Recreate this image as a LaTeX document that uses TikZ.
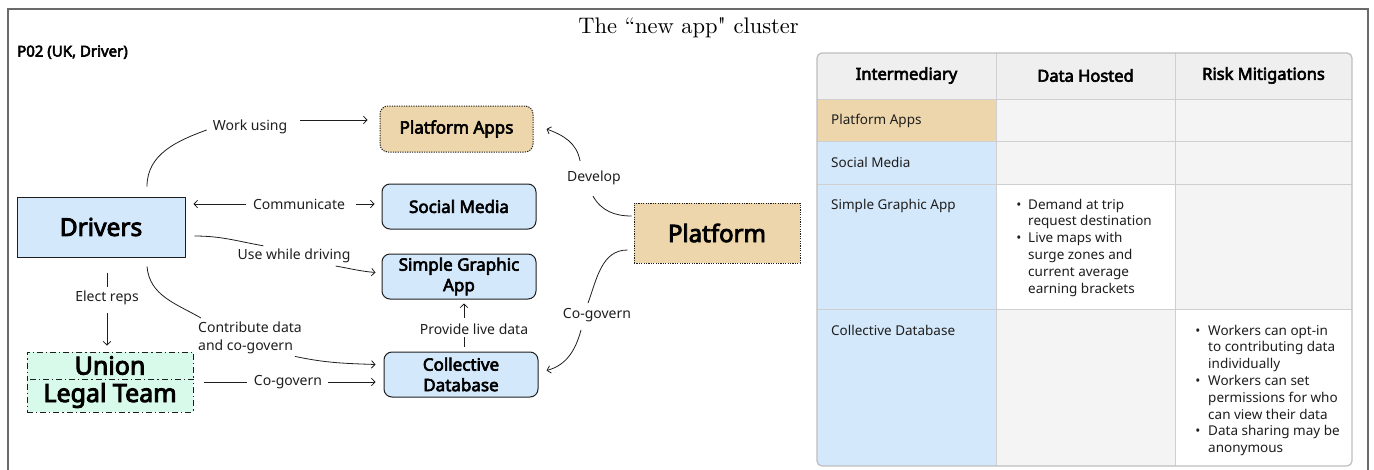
\documentclass[tikz,border=0pt]{standalone}
\usepackage{fontspec}
\newfontfamily\ns{Noto Sans}[AutoFakeBold=3.6]
\newfontfamily\ttl{lmroman10-regular.otf}[Ligatures=TeXOff]
\usetikzlibrary{arrows.meta,calc}
\definecolor{cblue}{HTML}{D4E8FB}
\definecolor{ctan}{HTML}{EDD6AB}
\definecolor{cmint}{HTML}{D8FAEA}
\definecolor{chead}{HTML}{EFEFEF}
\definecolor{ccell}{HTML}{F4F4F4}
\definecolor{cgrid}{HTML}{CFCFCF}
\definecolor{cborder}{HTML}{BDBDBD}
\definecolor{cframe}{HTML}{6A6A6A}
\definecolor{cink}{HTML}{1E1E1E}
\tikzset{
  box/.style={draw=cink, line width=1pt, align=center, inner sep=0pt, text=black},
  rbox/.style={box, rounded corners=8pt, fill=cblue, minimum width=154pt, minimum height=45pt,
    font={\ns\bfseries\fontsize{17}{20.5}\selectfont}},
  bigbox/.style={box, font={\ns\bfseries\fontsize{24.5}{26}\selectfont}},
  dotbd/.style={dash pattern=on 1.2pt off 1.2pt},
  dashdotbd/.style={dash pattern=on 6pt off 3pt on 1.2pt off 3pt},
  lbl/.style={font={\ns\fontsize{14}{18}\selectfont}, inner sep=0pt, text=cink},
  con/.style={line width=0.8pt, draw=cink},
  arr/.style={con, -{Straight Barb[length=3.5pt,width=7.5pt]}},
  thead/.style={font={\ns\bfseries\fontsize{16.5}{18}\selectfont}, inner sep=0pt, text=black},
  tcell/.style={font={\ns\fontsize{13.5}{16.8}\selectfont}, inner sep=0pt, text=cink},
  titem/.style={tcell, anchor=north west, align=left},
}
\begin{document}
\begin{tikzpicture}[x=1pt,y=-1pt]
\useasboundingbox (0,0) rectangle (1374,469);
% frame
\draw[cframe, line width=2pt] (8,470) -- (8,9) -- (1368,9) -- (1368,470);
\node[anchor=base, font=\ttl\fontsize{22.5}{25}\selectfont] (title) at (688.5,33.5) {The “new app" cluster};
\node[anchor=base west, inner sep=0pt, font={\ns\bfseries\fontsize{15}{17}\selectfont}] (pid) at (17,56.5) {P02 (UK, Driver)};

% nodes
\node[bigbox, fill=cblue, minimum width=168pt, minimum height=60pt] (drivers) at (101,227) {Drivers};
\node[bigbox, fill=cmint, dashdotbd, minimum width=166pt, minimum height=27pt, font={\ns\bfseries\fontsize{25}{26}\selectfont}] (union) at (110,365.5) {Union};
\node[bigbox, fill=cmint, dashdotbd, minimum width=166pt, minimum height=33pt, font={\ns\bfseries\fontsize{25}{26}\selectfont}] (legal) at (110,395.5) {Legal Team};
\node[rbox, fill=ctan, dotbd, minimum width=153pt, minimum height=46pt] (papps) at (456.5,129) {Platform Apps};
\node[rbox] (social) at (459,206.5) {Social Media};
\node[rbox] (simple) at (459,276.5) {Simple Graphic\\App};
\node[rbox] (coll) at (461,374.5) {Collective\\Database};
\node[box, fill=ctan, dotbd, minimum width=166pt, minimum height=60pt, font={\ns\bfseries\fontsize{24}{26}\selectfont}] (plat) at (717,233) {Platform};

% labels
\node[lbl] (wk) at (250,127) {Work using};
\node[lbl] (comm) at (299,204) {Communicate};
\node[lbl] (use) at (294,256) {Use while driving};
\node[lbl] (elect) at (107,298) {Elect reps};
\node[lbl, anchor=north west, align=left] (contrib) at (198,322) {Contribute data\\and co-govern};
\node[lbl] (cg1) at (288,382) {Co-govern};
\node[lbl] (provide) at (474,329) {Provide live data};
\node[lbl] (develop) at (594,178) {Develop};
\node[lbl] (cg2) at (597,315) {Co-govern};

% connectors
\draw[con] ($(drivers.north)+(46,-10)$) to[out=90,in=200] ($(wk.west)+(-6,3)$);
\draw[arr] ($(wk.east)+(13,-7)$) -- ($(papps.west)+(-12,-9)$);
\draw[arr] ($(comm.west)+(-7,0)$) -- ($(comm.west -| drivers.east)+(8,0)$);
\draw[arr] ($(comm.east)+(11,0)$) -- ($(comm.east -| social.west)+(-7,0)$);
\draw[con] ($(drivers.east)+(9,9)$) to[out=0,in=170] ($(use.north west)+(26,-3)$);
\draw[arr] ($(use.east)+(-15,10)$) to[out=-10,in=175] ($(simple.west)+(-6,-4)$);
\draw[con] ($(drivers.south)+(6,15)$) -- ($(elect.north)+(0,-4)$);
\draw[arr] ($(elect.south)+(0,8)$) -- ($(union.north)+(-3,-6)$);
\draw[con] ($(drivers.south)+(46,9)$) to[out=-85,in=150] ($(contrib.north west)+(3,-4)$);
\draw[arr] ($(contrib.south west)+(97,2)$) to[out=-12,in=178] ($(coll.west)+(-8,-10)$);
\draw[con] ($(cg1.west)+(-7,0)$) -- ($(cg1.west -| legal.east)+(10,0)$);
\draw[arr] ($(cg1.east)+(6,0)$) -- ($(cg1.east -| coll.west)+(-8,0)$);
\draw[con] ($(coll.north)+(3,-5)$) -- ($(coll.north)+(3,-15)$);
\draw[arr] ($(simple.south)+(5,18)$) -- ($(simple.south)+(5,4)$);
\draw[con] ($(plat.west)+(-2,-17)$) to[out=180,in=-60] ($(develop.south)+(-1,11)$);
\draw[arr] ($(develop.north)+(-14,-10)$) to[out=100,in=-20] ($(papps.east)+(13,0)$);
\draw[con] ($(plat.west)+(-6,17)$) to[out=180,in=70] ($(cg2.north)+(-9,-5)$);
\draw[arr] ($(cg2.south)+(-16,8)$) to[out=-105,in=15] ($(coll.east)+(8,-4)$);

% table
\begin{scope}
\clip[rounded corners=5pt] (817,53) rectangle (1352,466);
\fill[chead] (817,53) rectangle (1352,99);
\fill[ctan] (817,99) rectangle (996,141);
\fill[cblue] (817,141) rectangle (996,466);
\fill[ccell] (996,99) rectangle (1352,466);
\fill[white] (996,184) rectangle (1175,309);
\fill[white] (1175,309) rectangle (1352,466);
\end{scope}
\draw[cgrid, line width=1pt] (996,53) -- (996,466) (1175,53) -- (1175,466)
  (817,99) -- (1352,99) (817,141) -- (1352,141) (817,184) -- (1352,184) (817,309) -- (1352,309);
\draw[cborder, line width=1.2pt, rounded corners=5pt] (817,53) rectangle (1352,466);

\node[thead] (h1) at (906.5,75.5) {Intermediary};
\node[thead] (h2) at (1085.5,75.5) {Data Hosted};
\node[thead] (h3) at (1263.5,75.5) {Risk Mitigations};

\node[tcell, anchor=base west] (r1) at (831,124.5) {Platform Apps};
\node[tcell, anchor=base west] (r2) at (831,167) {Social Media};
\node[tcell, anchor=base west] (r3) at (831,209.5) {Simple Graphic App};
\node[tcell, anchor=base west] (r4) at (831,335.5) {Collective Database};

\node[tcell, anchor=base] (b1) at (1019,209) {•};
\node[titem] (d1) at (1028,197.2) {\strut Demand at trip\\request destination};
\node[tcell, anchor=base] (b2) at (1019,242.6) {•};
\node[titem] (d2) at (1028,230.8) {\strut Live maps with\\surge zones and\\current average\\earning brackets};

\node[tcell, anchor=base] (b3) at (1198,335) {•};
\node[titem] (m1) at (1208,323.2) {\strut Workers can opt-in\\to contributing data\\individually};
\node[tcell, anchor=base] (b4) at (1198,385.4) {•};
\node[titem] (m2) at (1208,373.6) {\strut Workers can set\\permissions for who\\can view their data};
\node[tcell, anchor=base] (b5) at (1198,435.8) {•};
\node[titem] (m3) at (1208,424) {\strut Data sharing may be\\anonymous};
\end{tikzpicture}
\end{document}
